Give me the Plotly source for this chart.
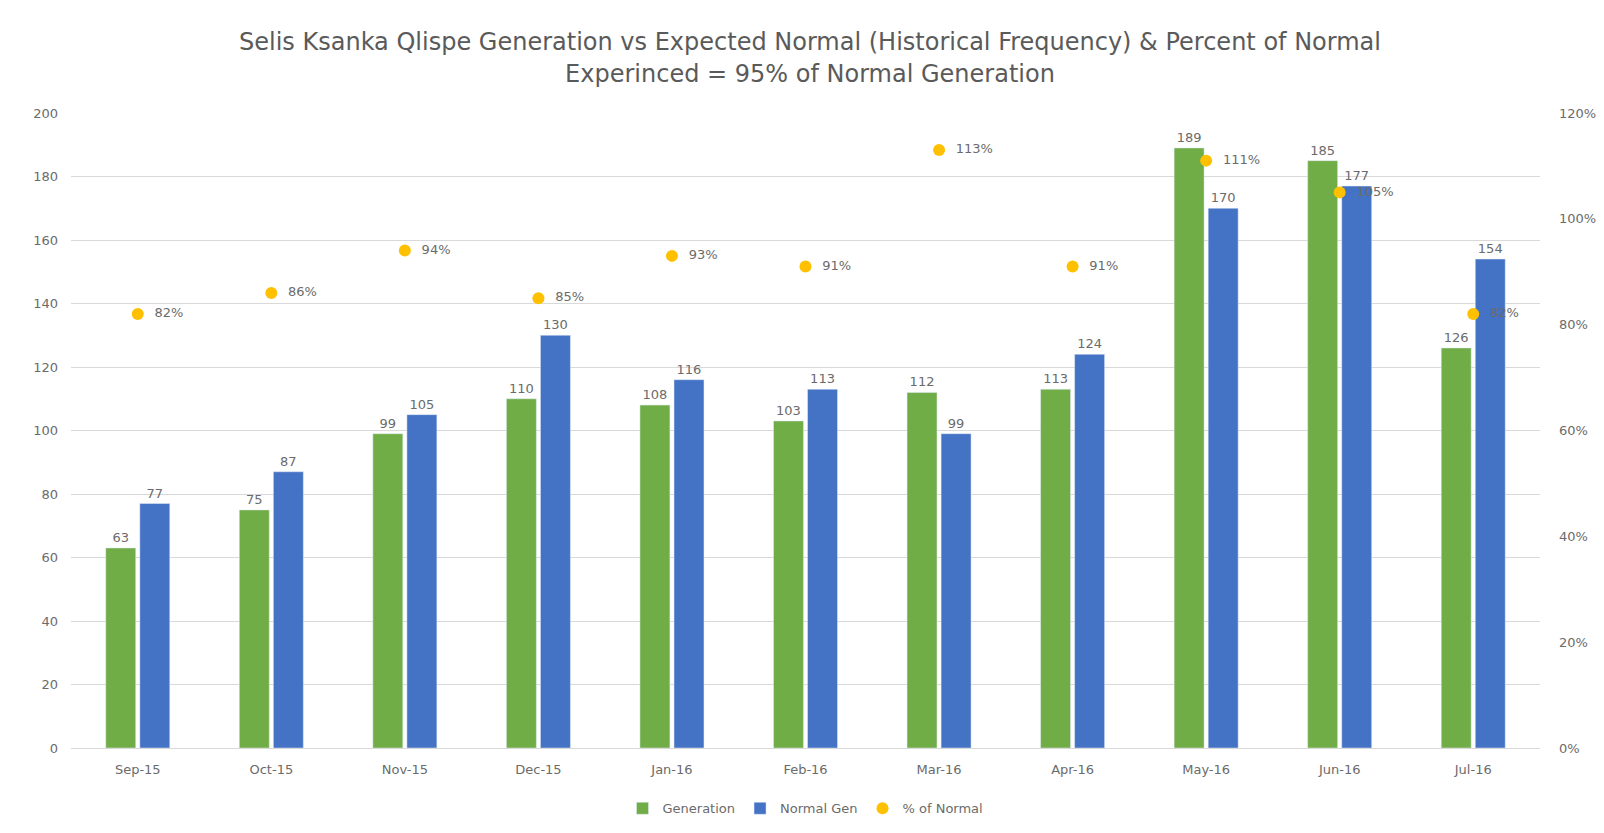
import plotly.graph_objects as go

months = ["Sep-15", "Oct-15", "Nov-15", "Dec-15", "Jan-16", "Feb-16", "Mar-16",
          "Apr-16", "May-16", "Jun-16", "Jul-16"]
generation = [63, 75, 99, 110, 108, 103, 112, 113, 189, 185, 126]
normal_gen = [77, 87, 105, 130, 116, 113, 99, 124, 170, 177, 154]
pct_normal = [0.82, 0.86, 0.94, 0.85, 0.93, 0.91, 1.13, 0.91, 1.11, 1.05, 0.82]

left_ticks = [0, 20, 40, 60, 80, 100, 120, 140, 160, 180, 200]
right_ticks = [0, 0.2, 0.4, 0.6, 0.8, 1.0, 1.2]
right_tick_labels = ["0%", "20%", "40%", "60%", "80%", "100%", "120%"]

GRAY = "#6b6b6b"
FONT = "DejaVu Sans"

fig = go.Figure()
fig.add_trace(go.Bar(
    x=months, y=generation, name="Generation", marker_color="#70AD47",
    text=[str(v) for v in generation], textposition="outside",
    textfont=dict(color=GRAY, size=13), cliponaxis=False,
))
fig.add_trace(go.Bar(
    x=months, y=normal_gen, name="Normal Gen", marker_color="#4472C4",
    text=[str(v) for v in normal_gen], textposition="outside",
    textfont=dict(color=GRAY, size=13), cliponaxis=False,
))
fig.add_trace(go.Scatter(
    x=months, y=pct_normal, name="% of Normal", yaxis="y2", mode="markers+text",
    marker=dict(color="#FFC000", size=12),
    text=[f"  {round(v*100)}%" for v in pct_normal], textposition="middle right",
    textfont=dict(color=GRAY, size=13), cliponaxis=False,
))

fig.update_layout(
    width=1604, height=833,
    paper_bgcolor="white", plot_bgcolor="white",
    font=dict(family=FONT, color=GRAY, size=13),
    title=dict(
        text="Selis Ksanka Qlispe Generation vs Expected Normal (Historical Frequency) &amp; Percent of Normal<br>Experinced = 95% of Normal Generation",
        x=0.5, xanchor="center", y=0.949, yanchor="top",
        font=dict(family=FONT, size=24, color="#5a5a5a"),
    ),
    margin=dict(l=63, r=72, t=105, b=93, autoexpand=False),
    barmode="group", bargap=0.49, bargroupgap=0.12,
    xaxis=dict(range=[-0.5, 10.5], showgrid=False, showline=True, linecolor="#D9D9D9",
               ticks="", ticklabelstandoff=9, tickfont=dict(size=13, color=GRAY)),
    yaxis=dict(range=[0, 200], tickvals=left_ticks, showgrid=True,
               gridcolor="#D9D9D9", zeroline=False, ticks="", ticklabelstandoff=12,
               tickfont=dict(size=13, color=GRAY)),
    yaxis2=dict(range=[0, 1.2], tickvals=right_ticks, ticktext=right_tick_labels,
                overlaying="y", side="right", showgrid=False, zeroline=False,
                ticklabelstandoff=18,
                tickfont=dict(size=13, color=GRAY)),
    legend=dict(orientation="h", x=0.5, xanchor="center", y=-0.095, yanchor="middle",
                font=dict(size=13, color=GRAY), itemwidth=30),
    showlegend=True,
)

fig.write_html("out.html")
